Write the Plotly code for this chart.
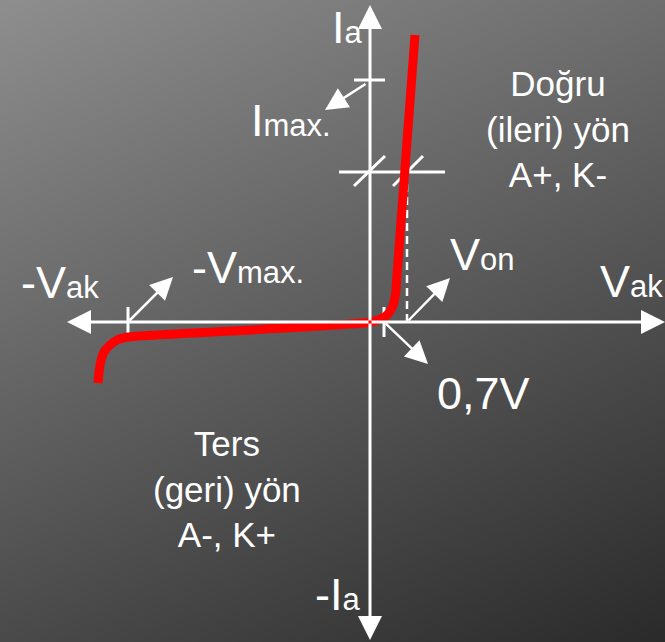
import base64

import plotly.graph_objects as go

# ── Karakteristik eğrisi (Vak, Ia) — şematik birimler ─────────────────────────
curve_v = [-272, -270, -266, -260, -253, -242, -120, -2, 8, 16, 21, 24, 26, 27, 45]
curve_i = [-61, -43, -30, -23, -18, -15, -8, -0.5, 2, 6, 12, 20, 32, 47, 287]

# Önemli seviyeler
I_MAX = 242      # Imax. işareti
I_OP = 150       # çalışma noktası akımı
V_ON = 37        # Von
V_KNEE = 14      # 0,7V
V_BR = -242      # -Vmax.

# Eksen sınırları (ok uçları)
V_LEFT, V_RIGHT = -303, 295
I_TOP, I_BOTTOM = 317, -318

WHITE = "#ffffff"
RED = "#ff0000"
FONT = "Liberation Sans, Arial, sans-serif"

W, H = 665, 642


def sub(main, small, big=45, little=31):
    return f'<span style="font-size:{big}px">{main}</span><span style="font-size:{little}px">{small}</span>'


# Arka plan gradyanı (svg data-uri)
svg = (
    f'<svg xmlns="http://www.w3.org/2000/svg" width="{W}" height="{H}">'
    '<defs><linearGradient id="g" gradientUnits="userSpaceOnUse" x1="0" y1="0" x2="355" y2="783">'
    '<stop offset="0" stop-color="#8e8e8e"/><stop offset="1" stop-color="#2a2a2a"/>'
    '</linearGradient></defs>'
    f'<rect width="{W}" height="{H}" fill="url(#g)"/></svg>'
)
bg_src = "data:image/svg+xml;base64," + base64.b64encode(svg.encode()).decode()

fig = go.Figure()

# Çalışma noktası kesikli çizgi
fig.add_trace(go.Scatter(
    x=[V_ON, V_ON], y=[0, I_OP], mode="lines",
    line=dict(color=WHITE, width=2.5, dash="8px,5px"), hoverinfo="skip",
))

# İşaret çizgileri
marks = [
    ([-16, 15], [I_MAX, I_MAX]),
    ([-31, 75], [I_OP, I_OP]),
    ([-16, 15], [I_OP - 14, I_OP + 16]),
    ([23, 53], [I_OP - 14, I_OP + 16]),
    ([V_BR, V_BR], [15, -16]),
    ([V_KNEE, V_KNEE], [15, -15]),
]
for mx, my in marks:
    fig.add_trace(go.Scatter(x=mx, y=my, mode="lines",
                             line=dict(color=WHITE, width=3), hoverinfo="skip"))

# Diyot eğrisi
fig.add_trace(go.Scatter(
    x=curve_v, y=curve_i, mode="lines",
    line=dict(color=RED, width=9, shape="spline", smoothing=0.6),
    hoverinfo="skip",
))

annotations = []


def arrow(x_tip, y_tip, x_tail, y_tail, width=3, size=1.6):
    annotations.append(dict(
        x=x_tip, y=y_tip, ax=x_tail, ay=y_tail,
        xref="x", yref="y", axref="x", ayref="y",
        text="", showarrow=True, arrowhead=2, arrowsize=size,
        arrowwidth=width, arrowcolor=WHITE, standoff=0, startstandoff=0,
    ))


# Eksenler
arrow(V_RIGHT, 0, 0, 0)
arrow(V_LEFT, 0, 0, 0)
arrow(0, I_TOP, 0, 0)
arrow(0, I_BOTTOM, 0, 0)

# Açıklama okları
arrow(-45, 212, -3, 239, width=2.5, size=1.8)
arrow(-197, 45, V_BR, 0, width=2.5, size=1.8)
arrow(80, 44, V_ON, 0, width=2.5, size=1.8)
arrow(58, -42, V_KNEE, 0, width=2.5, size=1.8)


def label(x, y, text, size=45, anchor="center"):
    annotations.append(dict(
        x=x, y=y, xref="x", yref="y", text=text, showarrow=False,
        xanchor=anchor, yanchor="middle",
        font=dict(family=FONT, size=size, color=WHITE),
    ))


label(-23, 295, sub("I", "a"))
label(-79, 202, sub("I", "max."))
label(-310, 40, sub("-V", "ak"))
label(-122, 55, sub("-V", "max."))
label(112, 68, sub("V", "on"))
label(261, 41, sub("V", "ak"))
label(113, -71, "0,7V")
label(-32, -272, sub("-I", "a"))
label(188, 193, "Doğru<br>(ileri) yön<br>A+, K-", size=35)
label(-143, -167, "Ters<br>(geri) yön<br>A-, K+", size=35)

fig.update_layout(
    width=W, height=H,
    margin=dict(l=0, r=0, t=0, b=0),
    paper_bgcolor="#5b5b5b", plot_bgcolor="rgba(0,0,0,0)",
    showlegend=False,
    xaxis=dict(range=[-370, 295], visible=False, fixedrange=True),
    yaxis=dict(range=[-320, 322], visible=False, fixedrange=True),
    annotations=annotations,
    images=[dict(source=bg_src, xref="paper", yref="paper", x=0, y=1,
                 sizex=1, sizey=1, sizing="stretch", layer="below",
                 xanchor="left", yanchor="top")],
)

# sayfa kenar boşluğunu kaldır, grafik pencereyi tam doldursun
fig.write_html(
    "out.html",
    config={"displayModeBar": False},
    post_script="document.body.style.margin='0';document.body.style.overflow='hidden';",
)
